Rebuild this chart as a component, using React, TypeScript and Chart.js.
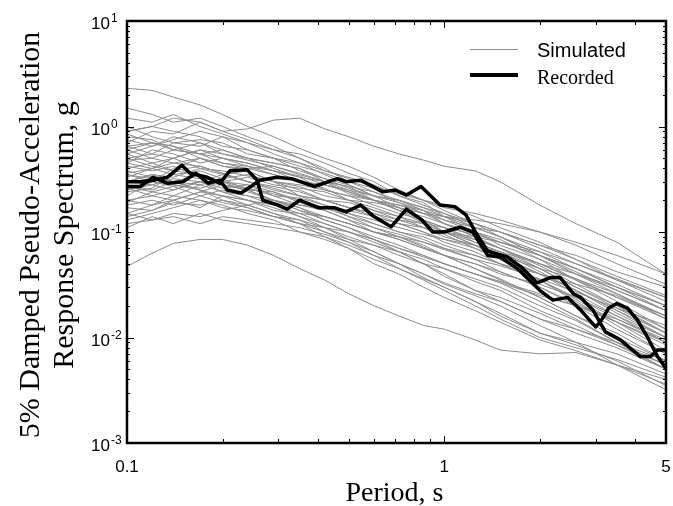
import React, { useEffect, useRef } from "react";
import { Chart, registerables } from "chart.js";

Chart.register(...registerables);

// Periods (s) at which the simulated spectra are read
const PERIODS = [0.1, 0.12, 0.14, 0.17, 0.2, 0.24, 0.29, 0.35, 0.42, 0.5, 0.6, 0.72, 0.86, 1.0, 1.25, 1.5, 2.0, 2.6, 3.5, 5.0];

// Simulated spectra (g), one row per simulation, read at PERIODS
const SIMULATED: number[][] = [
  [2.3, 2.2, 1.9, 1.6, 1.3, 1.0, 0.8, 0.62, 0.5, 0.42, 0.33, 0.25, 0.2, 0.16, 0.12, 0.09, 0.06, 0.04, 0.026, 0.015],
  [0.9, 1.0, 1.2, 1.1, 0.9, 0.95, 1.15, 1.2, 0.95, 0.8, 0.65, 0.55, 0.48, 0.42, 0.38, 0.3, 0.18, 0.12, 0.08, 0.04],
  [0.047, 0.063, 0.078, 0.085, 0.085, 0.075, 0.06, 0.045, 0.035, 0.026, 0.02, 0.016, 0.013, 0.012, 0.0095, 0.0076, 0.007, 0.0072, 0.0055, 0.004],
  [1.2, 1.1, 1.3, 1.0, 0.85, 0.7, 0.6, 0.55, 0.45, 0.36, 0.3, 0.22, 0.18, 0.15, 0.11, 0.09, 0.06, 0.042, 0.028, 0.018],
  [0.7, 0.9, 0.85, 1.1, 0.9, 0.75, 0.6, 0.5, 0.38, 0.33, 0.28, 0.22, 0.19, 0.14, 0.1, 0.085, 0.055, 0.035, 0.022, 0.012],
  [0.5, 0.55, 0.7, 0.65, 0.8, 0.6, 0.5, 0.42, 0.36, 0.3, 0.26, 0.24, 0.2, 0.17, 0.15, 0.13, 0.1, 0.075, 0.05, 0.032],
  [0.3, 0.35, 0.33, 0.4, 0.38, 0.34, 0.3, 0.27, 0.22, 0.2, 0.19, 0.17, 0.15, 0.14, 0.13, 0.12, 0.1, 0.08, 0.06, 0.04],
  [0.2, 0.22, 0.25, 0.3, 0.28, 0.25, 0.2, 0.16, 0.13, 0.11, 0.09, 0.075, 0.06, 0.05, 0.04, 0.033, 0.022, 0.015, 0.009, 0.005],
  [0.15, 0.18, 0.2, 0.17, 0.22, 0.2, 0.18, 0.15, 0.14, 0.12, 0.1, 0.085, 0.07, 0.06, 0.05, 0.042, 0.03, 0.021, 0.014, 0.0085],
  [0.12, 0.13, 0.15, 0.14, 0.16, 0.18, 0.15, 0.13, 0.1, 0.085, 0.075, 0.06, 0.05, 0.045, 0.034, 0.028, 0.018, 0.013, 0.0085, 0.005],
  [0.6, 0.5, 0.45, 0.5, 0.42, 0.4, 0.35, 0.3, 0.28, 0.24, 0.2, 0.17, 0.13, 0.11, 0.08, 0.065, 0.045, 0.03, 0.02, 0.012],
  [0.45, 0.6, 0.55, 0.45, 0.5, 0.45, 0.38, 0.33, 0.25, 0.22, 0.18, 0.15, 0.13, 0.1, 0.085, 0.07, 0.05, 0.035, 0.024, 0.015],
  [0.35, 0.3, 0.4, 0.5, 0.45, 0.4, 0.42, 0.35, 0.3, 0.27, 0.2, 0.16, 0.14, 0.12, 0.1, 0.075, 0.055, 0.04, 0.028, 0.018],
  [0.25, 0.28, 0.32, 0.3, 0.35, 0.3, 0.25, 0.22, 0.2, 0.17, 0.15, 0.12, 0.1, 0.08, 0.065, 0.05, 0.035, 0.024, 0.015, 0.009],
  [0.8, 0.75, 0.6, 0.7, 0.6, 0.5, 0.45, 0.4, 0.3, 0.25, 0.2, 0.18, 0.15, 0.13, 0.1, 0.08, 0.06, 0.045, 0.03, 0.02],
  [0.18, 0.2, 0.18, 0.22, 0.25, 0.22, 0.2, 0.18, 0.17, 0.15, 0.12, 0.1, 0.09, 0.075, 0.06, 0.05, 0.035, 0.022, 0.013, 0.007],
  [0.55, 0.45, 0.5, 0.4, 0.35, 0.38, 0.3, 0.25, 0.2, 0.17, 0.15, 0.13, 0.11, 0.09, 0.075, 0.065, 0.05, 0.04, 0.03, 0.02],
  [0.4, 0.45, 0.38, 0.35, 0.3, 0.28, 0.22, 0.18, 0.16, 0.13, 0.1, 0.085, 0.07, 0.06, 0.045, 0.035, 0.024, 0.016, 0.01, 0.006],
  [0.28, 0.25, 0.3, 0.28, 0.32, 0.35, 0.3, 0.28, 0.25, 0.22, 0.2, 0.18, 0.16, 0.13, 0.11, 0.1, 0.075, 0.055, 0.038, 0.025],
  [1.0, 0.8, 0.7, 0.75, 0.7, 0.55, 0.5, 0.38, 0.32, 0.28, 0.22, 0.2, 0.16, 0.12, 0.09, 0.07, 0.048, 0.032, 0.02, 0.011],
  [0.22, 0.3, 0.28, 0.25, 0.2, 0.18, 0.2, 0.17, 0.14, 0.12, 0.1, 0.09, 0.08, 0.07, 0.06, 0.05, 0.04, 0.032, 0.025, 0.016],
  [0.65, 0.7, 0.6, 0.55, 0.6, 0.5, 0.4, 0.33, 0.3, 0.23, 0.2, 0.16, 0.12, 0.1, 0.075, 0.06, 0.04, 0.026, 0.016, 0.009],
  [0.33, 0.4, 0.45, 0.42, 0.36, 0.3, 0.27, 0.24, 0.2, 0.19, 0.16, 0.13, 0.12, 0.11, 0.095, 0.08, 0.06, 0.045, 0.032, 0.02],
  [0.13, 0.15, 0.17, 0.2, 0.18, 0.15, 0.13, 0.1, 0.09, 0.075, 0.06, 0.05, 0.04, 0.033, 0.026, 0.022, 0.015, 0.011, 0.008, 0.005],
  [0.9, 1.0, 0.9, 0.8, 0.65, 0.6, 0.5, 0.45, 0.38, 0.32, 0.27, 0.23, 0.2, 0.18, 0.14, 0.11, 0.08, 0.055, 0.035, 0.022],
  [0.38, 0.33, 0.3, 0.35, 0.28, 0.25, 0.24, 0.2, 0.17, 0.14, 0.12, 0.1, 0.085, 0.07, 0.055, 0.042, 0.03, 0.02, 0.012, 0.007],
  [0.48, 0.5, 0.6, 0.55, 0.45, 0.42, 0.35, 0.3, 0.28, 0.25, 0.22, 0.2, 0.17, 0.15, 0.12, 0.1, 0.07, 0.05, 0.035, 0.024],
  [0.26, 0.22, 0.2, 0.24, 0.22, 0.2, 0.17, 0.14, 0.12, 0.1, 0.08, 0.065, 0.055, 0.045, 0.036, 0.03, 0.02, 0.0145, 0.009, 0.0055],
  [0.75, 0.65, 0.8, 0.7, 0.55, 0.48, 0.42, 0.36, 0.3, 0.27, 0.24, 0.2, 0.17, 0.14, 0.12, 0.1, 0.075, 0.06, 0.042, 0.03],
  [0.17, 0.16, 0.2, 0.24, 0.28, 0.26, 0.23, 0.2, 0.17, 0.15, 0.13, 0.11, 0.095, 0.085, 0.07, 0.055, 0.04, 0.028, 0.018, 0.011],
  [0.55, 0.65, 0.75, 0.9, 0.8, 0.7, 0.55, 0.45, 0.35, 0.28, 0.22, 0.17, 0.13, 0.1, 0.075, 0.055, 0.035, 0.023, 0.014, 0.0075],
  [0.42, 0.38, 0.42, 0.33, 0.3, 0.33, 0.28, 0.26, 0.24, 0.2, 0.17, 0.14, 0.11, 0.095, 0.07, 0.058, 0.04, 0.028, 0.017, 0.01],
  [0.11, 0.14, 0.12, 0.15, 0.13, 0.12, 0.11, 0.1, 0.085, 0.07, 0.055, 0.045, 0.036, 0.03, 0.022, 0.017, 0.011, 0.0085, 0.006, 0.0035],
  [0.3, 0.28, 0.25, 0.3, 0.26, 0.28, 0.24, 0.19, 0.16, 0.13, 0.11, 0.095, 0.08, 0.068, 0.055, 0.048, 0.036, 0.027, 0.019, 0.013],
  [0.85, 0.7, 0.65, 0.55, 0.5, 0.45, 0.38, 0.3, 0.26, 0.2, 0.16, 0.14, 0.12, 0.1, 0.08, 0.065, 0.042, 0.028, 0.018, 0.01],
  [0.24, 0.26, 0.35, 0.32, 0.3, 0.26, 0.22, 0.21, 0.18, 0.16, 0.14, 0.12, 0.11, 0.1, 0.09, 0.08, 0.065, 0.05, 0.036, 0.024],
  [0.5, 0.42, 0.38, 0.42, 0.36, 0.3, 0.26, 0.22, 0.18, 0.14, 0.11, 0.09, 0.072, 0.06, 0.045, 0.036, 0.024, 0.016, 0.011, 0.006],
  [0.36, 0.4, 0.5, 0.6, 0.55, 0.5, 0.45, 0.4, 0.32, 0.26, 0.22, 0.19, 0.16, 0.14, 0.11, 0.09, 0.065, 0.045, 0.03, 0.018],
  [0.2, 0.18, 0.22, 0.2, 0.17, 0.16, 0.14, 0.13, 0.11, 0.1, 0.085, 0.07, 0.058, 0.05, 0.04, 0.034, 0.026, 0.02, 0.014, 0.009],
  [0.65, 0.55, 0.5, 0.6, 0.5, 0.42, 0.38, 0.34, 0.28, 0.24, 0.2, 0.16, 0.13, 0.11, 0.085, 0.07, 0.05, 0.036, 0.024, 0.016],
  [1.5, 1.3, 1.1, 1.2, 1.0, 0.8, 0.65, 0.5, 0.4, 0.3, 0.24, 0.19, 0.15, 0.12, 0.09, 0.07, 0.045, 0.03, 0.019, 0.011],
  [0.15, 0.13, 0.14, 0.12, 0.14, 0.13, 0.12, 0.11, 0.095, 0.08, 0.065, 0.05, 0.04, 0.032, 0.025, 0.02, 0.013, 0.009, 0.0055, 0.0032],
  [0.3, 0.35, 0.3, 0.25, 0.22, 0.18, 0.15, 0.12, 0.09, 0.07, 0.05, 0.04, 0.03, 0.024, 0.018, 0.014, 0.0095, 0.0075, 0.0055, 0.0036],
  [0.25, 0.3, 0.27, 0.3, 0.24, 0.2, 0.16, 0.15, 0.12, 0.1, 0.085, 0.065, 0.05, 0.04, 0.028, 0.022, 0.015, 0.012, 0.009, 0.006],
  [0.14, 0.16, 0.19, 0.18, 0.2, 0.17, 0.14, 0.12, 0.11, 0.09, 0.075, 0.065, 0.05, 0.038, 0.028, 0.024, 0.017, 0.012, 0.0085, 0.0055],
  [0.45, 0.4, 0.35, 0.38, 0.32, 0.25, 0.2, 0.17, 0.13, 0.11, 0.085, 0.07, 0.06, 0.05, 0.04, 0.033, 0.025, 0.02, 0.015, 0.0095],
  [0.19, 0.24, 0.22, 0.28, 0.24, 0.22, 0.18, 0.14, 0.11, 0.085, 0.065, 0.05, 0.037, 0.03, 0.022, 0.016, 0.011, 0.009, 0.007, 0.0045],
  [0.6, 0.7, 0.65, 0.5, 0.42, 0.38, 0.3, 0.22, 0.2, 0.17, 0.14, 0.12, 0.1, 0.085, 0.075, 0.06, 0.045, 0.036, 0.026, 0.016],
  [0.35, 0.32, 0.28, 0.26, 0.3, 0.24, 0.2, 0.16, 0.14, 0.12, 0.1, 0.09, 0.075, 0.06, 0.05, 0.04, 0.032, 0.024, 0.016, 0.01],
  [0.27, 0.24, 0.27, 0.22, 0.19, 0.17, 0.14, 0.12, 0.1, 0.08, 0.06, 0.045, 0.035, 0.028, 0.02, 0.015, 0.01, 0.008, 0.0062, 0.0042],
];

// Recorded spectra (two horizontal components)
const REC1_T = [0.1, 0.11, 0.121, 0.134, 0.149, 0.158, 0.179, 0.196, 0.211, 0.239, 0.257, 0.268, 0.3, 0.32, 0.35, 0.4, 0.45, 0.49, 0.545, 0.6, 0.68, 0.76, 0.85, 0.92, 1.0, 1.12, 1.23, 1.37, 1.5, 1.7, 2.0, 2.2, 2.45, 2.7, 3.0, 3.1, 3.3, 3.5, 3.78, 4.06, 4.37, 4.7, 5.0];
const REC1_SA = [0.30, 0.30, 0.31, 0.33, 0.43, 0.36, 0.33, 0.29, 0.38, 0.39, 0.31, 0.20, 0.18, 0.165, 0.20, 0.17, 0.17, 0.155, 0.18, 0.14, 0.112, 0.165, 0.13, 0.10, 0.10, 0.111, 0.10, 0.06, 0.058, 0.045, 0.028, 0.0226, 0.024, 0.018, 0.0126, 0.014, 0.019, 0.021, 0.019, 0.0147, 0.0101, 0.0066, 0.0051];
const REC2_T = [0.1, 0.11, 0.121, 0.134, 0.15, 0.165, 0.18, 0.196, 0.207, 0.229, 0.263, 0.297, 0.33, 0.39, 0.46, 0.49, 0.545, 0.64, 0.7, 0.76, 0.845, 0.97, 1.08, 1.17, 1.28, 1.37, 1.58, 1.74, 1.96, 2.16, 2.32, 2.55, 2.69, 2.95, 3.22, 3.59, 4.15, 4.47, 4.7, 5.0];
const REC2_SA = [0.27, 0.27, 0.33, 0.29, 0.30, 0.36, 0.29, 0.31, 0.25, 0.234, 0.31, 0.33, 0.32, 0.27, 0.32, 0.30, 0.31, 0.24, 0.25, 0.224, 0.27, 0.18, 0.174, 0.145, 0.09, 0.066, 0.058, 0.047, 0.033, 0.037, 0.037, 0.026, 0.024, 0.018, 0.0113, 0.0095, 0.0066, 0.0066, 0.0076, 0.0076];

// Axis ticks / labels
const X_TICK_VALUES = [0.1, 1, 5];
const X_TICK_LABELS = ["0.1", "1", "5"];
const X_MINOR_TICKS = [0.2, 0.3, 0.4, 0.5, 0.6, 0.7, 0.8, 0.9, 2, 3, 4];
const Y_TICK_VALUES = [10, 1, 0.1, 0.01, 0.001];
const Y_TICK_EXPONENTS = ["1", "0", "-1", "-2", "-3"];
const X_TITLE = "Period, s";
const Y_TITLE = ["5% Damped Pseudo-Acceleration", "Response Spectrum, g"];
const LEGEND_LABELS = ["Simulated", "Recorded"];

const GRAY = "#8c8c8c";

const decorPlugin = {
  id: "decor",
  afterDraw(chart: any) {
    const ctx: CanvasRenderingContext2D = chart.ctx;
    const { left, right, top, bottom } = chart.chartArea;
    const xs = chart.scales.x;
    const ys = chart.scales.y;
    ctx.save();
    ctx.strokeStyle = "#000";
    ctx.fillStyle = "#000";
    ctx.lineWidth = 1;
    // x ticks (inward, top and bottom)
    const xt = (v: number, len: number) => {
      const px = Math.round(xs.getPixelForValue(v)) + 0.5;
      ctx.beginPath();
      ctx.moveTo(px, bottom);
      ctx.lineTo(px, bottom - len);
      ctx.moveTo(px, top);
      ctx.lineTo(px, top + len);
      ctx.stroke();
    };
    X_MINOR_TICKS.forEach((v) => xt(v, 4));
    xt(1, 7);
    // y ticks (inward, left and right)
    const yt = (v: number, len: number) => {
      const py = Math.round(ys.getPixelForValue(v)) + 0.5;
      ctx.beginPath();
      ctx.moveTo(left, py);
      ctx.lineTo(left + len, py);
      ctx.moveTo(right, py);
      ctx.lineTo(right - len, py);
      ctx.stroke();
    };
    Y_TICK_VALUES.forEach((v) => yt(v, 7));
    for (let d = -3; d < 1; d++) {
      for (let m = 2; m <= 9; m++) yt(m * Math.pow(10, d), 3);
    }
    // frame
    ctx.lineWidth = 2.5;
    ctx.strokeRect(left, top, right - left, bottom - top);

    // x tick labels
    ctx.font = '17px "Liberation Sans", Arial, sans-serif';
    ctx.textAlign = "center";
    ctx.textBaseline = "alphabetic";
    X_TICK_VALUES.forEach((v, i) => {
      ctx.fillText(X_TICK_LABELS[i], xs.getPixelForValue(v), 472);
    });
    // y tick labels with superscripts
    Y_TICK_VALUES.forEach((v, i) => {
      const py = ys.getPixelForValue(v);
      ctx.font = '17px "Liberation Sans", Arial, sans-serif';
      ctx.textAlign = "right";
      ctx.fillText("10", 110, py + 8);
      ctx.font = '12px "Liberation Sans", Arial, sans-serif';
      ctx.textAlign = "left";
      ctx.fillText(Y_TICK_EXPONENTS[i], 111, py + 1);
    });

    // axis titles
    ctx.font = '28px "Liberation Serif", "Times New Roman", serif';
    ctx.textAlign = "center";
    ctx.fillText(X_TITLE, (left + right) / 2 - 2, 501);
    ctx.font = '30px "Liberation Serif", "Times New Roman", serif';
    const cy = (top + bottom) / 2 + 3;
    [39, 73].forEach((bx, i) => {
      ctx.save();
      ctx.translate(bx, cy);
      ctx.rotate(-Math.PI / 2);
      ctx.fillText(Y_TITLE[i], 0, 0);
      ctx.restore();
    });

    // legend
    ctx.lineCap = "butt";
    ctx.strokeStyle = GRAY;
    ctx.lineWidth = 1.2;
    ctx.beginPath();
    ctx.moveTo(470, 49.5);
    ctx.lineTo(518, 49.5);
    ctx.stroke();
    ctx.strokeStyle = "#000";
    ctx.lineWidth = 4;
    ctx.beginPath();
    ctx.moveTo(470, 75);
    ctx.lineTo(518, 75);
    ctx.stroke();
    ctx.textAlign = "left";
    ctx.font = '20px "Liberation Sans", Arial, sans-serif';
    ctx.fillText(LEGEND_LABELS[0], 537, 57);
    ctx.font = '20px "Liberation Serif", "Times New Roman", serif';
    ctx.fillText(LEGEND_LABELS[1], 537, 84);
    ctx.restore();
  },
};

export default function App() {
  const canvasRef = useRef<HTMLCanvasElement | null>(null);

  useEffect(() => {
    document.body.style.margin = "0";
    const canvas = canvasRef.current;
    if (!canvas) return;
    const datasets: any[] = SIMULATED.map((row, k) => ({
      label: LEGEND_LABELS[0] + " " + (k + 1),
      data: PERIODS.map((t, i) => ({ x: t, y: row[i] })),
      borderColor: GRAY,
      borderWidth: 1,
      pointRadius: 0,
      tension: 0,
      order: 1,
    }));
    [
      [REC1_T, REC1_SA],
      [REC2_T, REC2_SA],
    ].forEach(([ts, sa], k) => {
      datasets.push({
        label: LEGEND_LABELS[1] + " " + (k + 1),
        data: ts.map((t, i) => ({ x: t, y: sa[i] })),
        borderColor: "#000",
        borderWidth: 3.5,
        pointRadius: 0,
        tension: 0,
        borderJoinStyle: "round",
        order: 0,
      });
    });
    const chart = new Chart(canvas, {
      type: "line",
      data: { datasets },
      options: {
        animation: false,
        responsive: false,
        devicePixelRatio: 1,
        events: [],
        layout: { padding: { left: 127, right: 7, top: 21, bottom: 63 } },
        plugins: { legend: { display: false }, tooltip: { enabled: false } },
        scales: {
          x: { type: "logarithmic", min: 0.1, max: 5, display: false },
          y: { type: "logarithmic", min: 0.001, max: 10, display: false },
        },
      },
      plugins: [decorPlugin],
    });
    return () => chart.destroy();
  }, []);

  return (
    <div style={{ width: 673, height: 506, background: "#fff" }}>
      <canvas ref={canvasRef} width={673} height={506} />
    </div>
  );
}
